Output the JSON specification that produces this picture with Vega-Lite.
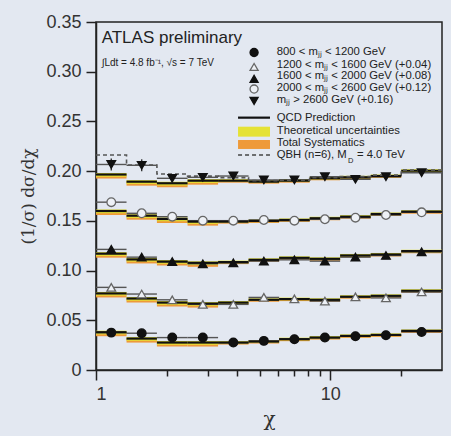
{
  "$schema": "https://vega.github.io/schema/vega-lite/v6.json",
  "width": 346,
  "height": 348,
  "autosize": "none",
  "padding": {"left": 96, "top": 22, "right": 9, "bottom": 66},
  "background": "#e3e8f1",
  "config": {"view": {"stroke": "#222", "strokeWidth": 1.5}, "font": "Liberation Sans"},
  "datasets": {
    "bins": [
      {"s":"m1","lo":1,"hi":1.35,"c":1.162,"d":0.0376,"q":0.038,"e":0.0015},
      {"s":"m1","lo":1.35,"hi":1.82,"c":1.567,"d":0.037,"q":0.0316,"e":0.0015},
      {"s":"m1","lo":1.82,"hi":2.46,"c":2.116,"d":0.0326,"q":0.0276,"e":0.0015},
      {"s":"m1","lo":2.46,"hi":3.32,"c":2.858,"d":0.0326,"q":0.0276,"e":0.0015},
      {"s":"m1","lo":3.32,"hi":4.48,"c":3.857,"d":0.0276,"q":0.0276,"e":0.0015},
      {"s":"m1","lo":4.48,"hi":6.05,"c":5.207,"d":0.0293,"q":0.0286,"e":0.0015},
      {"s":"m1","lo":6.05,"hi":8.17,"c":7.031,"d":0.031,"q":0.031,"e":0.0015},
      {"s":"m1","lo":8.17,"hi":11.02,"c":9.489,"d":0.0326,"q":0.0326,"e":0.0015},
      {"s":"m1","lo":11.02,"hi":14.88,"c":12.81,"d":0.034,"q":0.0343,"e":0.0015},
      {"s":"m1","lo":14.88,"hi":20.09,"c":17.29,"d":0.035,"q":0.0353,"e":0.0015},
      {"s":"m1","lo":20.09,"hi":30,"c":24.55,"d":0.0383,"q":0.0393,"e":0.0015},
      {"s":"m2","lo":1,"hi":1.35,"c":1.162,"d":0.0831,"q":0.077,"e":0.002},
      {"s":"m2","lo":1.35,"hi":1.82,"c":1.567,"d":0.0764,"q":0.0719,"e":0.002},
      {"s":"m2","lo":1.82,"hi":2.46,"c":2.116,"d":0.0706,"q":0.0678,"e":0.002},
      {"s":"m2","lo":2.46,"hi":3.32,"c":2.858,"d":0.066,"q":0.0668,"e":0.002},
      {"s":"m2","lo":3.32,"hi":4.48,"c":3.857,"d":0.066,"q":0.0678,"e":0.002},
      {"s":"m2","lo":4.48,"hi":6.05,"c":5.207,"d":0.073,"q":0.0706,"e":0.002},
      {"s":"m2","lo":6.05,"hi":8.17,"c":7.031,"d":0.0716,"q":0.0713,"e":0.002},
      {"s":"m2","lo":8.17,"hi":11.02,"c":9.489,"d":0.0693,"q":0.0706,"e":0.002},
      {"s":"m2","lo":11.02,"hi":14.88,"c":12.81,"d":0.0735,"q":0.0737,"e":0.002},
      {"s":"m2","lo":14.88,"hi":20.09,"c":17.29,"d":0.0725,"q":0.0746,"e":0.002},
      {"s":"m2","lo":20.09,"hi":30,"c":24.55,"d":0.0785,"q":0.0797,"e":0.002},
      {"s":"m3","lo":1,"hi":1.35,"c":1.162,"d":0.1213,"q":0.117,"e":0.002},
      {"s":"m3","lo":1.35,"hi":1.82,"c":1.567,"d":0.1135,"q":0.1112,"e":0.002},
      {"s":"m3","lo":1.82,"hi":2.46,"c":2.116,"d":0.1091,"q":0.109,"e":0.002},
      {"s":"m3","lo":2.46,"hi":3.32,"c":2.858,"d":0.1068,"q":0.1078,"e":0.002},
      {"s":"m3","lo":3.32,"hi":4.48,"c":3.857,"d":0.1078,"q":0.1085,"e":0.002},
      {"s":"m3","lo":4.48,"hi":6.05,"c":5.207,"d":0.1095,"q":0.1108,"e":0.002},
      {"s":"m3","lo":6.05,"hi":8.17,"c":7.031,"d":0.1108,"q":0.1128,"e":0.002},
      {"s":"m3","lo":8.17,"hi":11.02,"c":9.489,"d":0.1095,"q":0.1118,"e":0.002},
      {"s":"m3","lo":11.02,"hi":14.88,"c":12.81,"d":0.1135,"q":0.1152,"e":0.002},
      {"s":"m3","lo":14.88,"hi":20.09,"c":17.29,"d":0.1152,"q":0.1162,"e":0.002},
      {"s":"m3","lo":20.09,"hi":30,"c":24.55,"d":0.1189,"q":0.1195,"e":0.002},
      {"s":"m4","lo":1,"hi":1.35,"c":1.162,"d":0.1688,"q":0.1599,"e":0.002},
      {"s":"m4","lo":1.35,"hi":1.82,"c":1.567,"d":0.1576,"q":0.1552,"e":0.002},
      {"s":"m4","lo":1.82,"hi":2.46,"c":2.116,"d":0.1542,"q":0.1519,"e":0.002},
      {"s":"m4","lo":2.46,"hi":3.32,"c":2.858,"d":0.1502,"q":0.1492,"e":0.002},
      {"s":"m4","lo":3.32,"hi":4.48,"c":3.857,"d":0.1502,"q":0.1492,"e":0.002},
      {"s":"m4","lo":4.48,"hi":6.05,"c":5.207,"d":0.1509,"q":0.1499,"e":0.002},
      {"s":"m4","lo":6.05,"hi":8.17,"c":7.031,"d":0.1502,"q":0.1509,"e":0.002},
      {"s":"m4","lo":8.17,"hi":11.02,"c":9.489,"d":0.1516,"q":0.1526,"e":0.002},
      {"s":"m4","lo":11.02,"hi":14.88,"c":12.81,"d":0.1532,"q":0.1542,"e":0.002},
      {"s":"m4","lo":14.88,"hi":20.09,"c":17.29,"d":0.1559,"q":0.1569,"e":0.002},
      {"s":"m4","lo":20.09,"hi":30,"c":24.55,"d":0.1586,"q":0.1592,"e":0.002},
      {"s":"m5","lo":1,"hi":1.35,"c":1.162,"d":0.2067,"q":0.1966,"e":0.006},
      {"s":"m5","lo":1.35,"hi":1.82,"c":1.567,"d":0.2059,"q":0.1894,"e":0.006},
      {"s":"m5","lo":1.82,"hi":2.46,"c":2.116,"d":0.1928,"q":0.1878,"e":0.004},
      {"s":"m5","lo":2.46,"hi":3.32,"c":2.858,"d":0.1938,"q":0.1904,"e":0.003},
      {"s":"m5","lo":3.32,"hi":4.48,"c":3.857,"d":0.1951,"q":0.1904,"e":0.003},
      {"s":"m5","lo":4.48,"hi":6.05,"c":5.207,"d":0.1911,"q":0.1894,"e":0.003},
      {"s":"m5","lo":6.05,"hi":8.17,"c":7.031,"d":0.1911,"q":0.1904,"e":0.003},
      {"s":"m5","lo":8.17,"hi":11.02,"c":9.489,"d":0.1944,"q":0.1928,"e":0.003},
      {"s":"m5","lo":11.02,"hi":14.88,"c":12.81,"d":0.1918,"q":0.1938,"e":0.003},
      {"s":"m5","lo":14.88,"hi":20.09,"c":17.29,"d":0.1944,"q":0.1951,"e":0.003},
      {"s":"m5","lo":20.09,"hi":30,"c":24.55,"d":0.1984,"q":0.2004,"e":0.003}
    ],
    "qbh": [
      {"x":1,"v":0.2162},{"x":1.35,"v":0.2062},{"x":1.82,"v":0.1971},{"x":2.46,"v":0.195},
      {"x":3.32,"v":0.1935},{"x":4.48,"v":0.1905},{"x":6.05,"v":0.191},{"x":8.17,"v":0.1935},
      {"x":11.02,"v":0.1945},{"x":14.88,"v":0.196},{"x":20.09,"v":0.201},{"x":30,"v":0.201}
    ],
    "legsym": [
      {"s":"m1","x":4.73,"y":0.3193},
      {"s":"m2","x":4.73,"y":0.3048},
      {"s":"m3","x":4.73,"y":0.2928},
      {"s":"m4","x":4.73,"y":0.2826},
      {"s":"m5","x":4.73,"y":0.2706}
    ],
    "legtext": [
      {"x":5.91,"y":0.3195,"t":"800 < mⱼⱼ < 1200 GeV"},
      {"x":5.91,"y":0.3071,"t":"1200 < mⱼⱼ < 1600 GeV (+0.04)"},
      {"x":5.91,"y":0.2957,"t":"1600 < mⱼⱼ < 2000 GeV (+0.08)"},
      {"x":5.91,"y":0.2836,"t":"2000 < mⱼⱼ < 2600 GeV (+0.12)"},
      {"x":5.91,"y":0.2716,"t":"mⱼⱼ > 2600 GeV (+0.16)"},
      {"x":5.91,"y":0.2538,"t":"QCD Prediction"},
      {"x":5.91,"y":0.2404,"t":"Theoretical uncertainties"},
      {"x":5.91,"y":0.2283,"t":"Total Systematics"},
      {"x":5.91,"y":0.2162,"t":"QBH (n=6), M"},
      {"x":13.0,"y":0.2162,"t":"= 4.0 TeV"}
    ],
    "legsub": [{"x":11.9,"y":0.2105,"t":"D"}],
    "legline": [{"x1":4.04,"x2":5.53,"y":0.2538}],
    "legyel": [{"x1":4.04,"x2":5.53,"y1":0.2447,"y2":0.2347}],
    "legorg": [{"x1":4.04,"x2":5.53,"y1":0.2313,"y2":0.2223}],
    "legqbh": [{"x1":4.04,"x2":5.53,"y":0.2162}],
    "title": [{"x":1.057,"y":0.3339,"t":"ATLAS preliminary"}],
    "sub": [{"x":1.057,"y":0.3088,"t":"∫Ldt = 4.8 fb⁻¹, √s = 7 TeV"}]
  },
  "layer": [
    {
      "data": {"name": "bins"},
      "transform": [{"filter": "datum.c < 3"}],
      "mark": {"type": "rect", "color": "#ee9a3a", "yOffset": 0, "y2Offset": 4},
      "encoding": {
        "x": {"field": "lo", "type": "quantitative", "scale": {"type": "log", "domain": [1, 30], "nice": false},
          "axis": {"values": [1,2,3,4,5,6,7,8,9,10,20], "labelExpr": "(datum.value == 1 || datum.value == 10) ? '' + datum.value : ''",
            "tickSize": {"condition": {"test": "datum.value == 1 || datum.value == 10", "value": 10}, "value": 6},
            "grid": false, "labelFontSize": 18, "labelColor": "#333", "labelPadding": 5, "labelFont": "Liberation Sans",
            "domainColor": "#222", "domainWidth": 1.5, "tickColor": "#222", "tickWidth": 1.5, "labelOverlap": false,
            "title": "χ", "titleFont": "DejaVu Serif", "titleFontSize": 20, "titleFontWeight": "normal", "titleColor": "#333", "titlePadding": 6}},
        "x2": {"field": "hi"},
        "y": {"field": "q", "type": "quantitative", "scale": {"domain": [0, 0.35], "nice": false},
          "axis": {"values": [0,0.05,0.1,0.15,0.2,0.25,0.3,0.35], "labelExpr": "datum.value == 0 ? '0' : format(datum.value, '.2f')",
            "tickSize": 10, "grid": false, "labelFontSize": 18, "labelColor": "#333", "labelPadding": 5, "labelFont": "Liberation Sans",
            "domainColor": "#222", "domainWidth": 1.5, "tickColor": "#222", "tickWidth": 1.5,
            "title": "(1/σ) dσ/dχ", "titleFont": "DejaVu Serif", "titleFontSize": 17, "titleFontWeight": "normal", "titleColor": "#333", "titlePadding": 8}},
        "y2": {"field": "q"}
      }
    },
    {
      "data": {"name": "bins"},
      "transform": [{"filter": "datum.c >= 3"}],
      "mark": {"type": "rect", "color": "#ee9a3a", "yOffset": 0, "y2Offset": 2},
      "encoding": {
        "x": {"field": "lo", "type": "quantitative"},
        "x2": {"field": "hi"},
        "y": {"field": "q", "type": "quantitative"},
        "y2": {"field": "q"}
      }
    },
    {
      "data": {"name": "bins"},
      "transform": [{"filter": "datum.c < 3"}],
      "mark": {"type": "rect", "color": "#e5e235", "yOffset": -1.5, "y2Offset": 2.2},
      "encoding": {
        "x": {"field": "lo", "type": "quantitative"},
        "x2": {"field": "hi"},
        "y": {"field": "q", "type": "quantitative"},
        "y2": {"field": "q"}
      }
    },
    {
      "data": {"name": "bins"},
      "transform": [{"filter": "datum.c >= 3"}],
      "mark": {"type": "rect", "color": "#e5e235", "yOffset": -1.5, "y2Offset": 1.2},
      "encoding": {
        "x": {"field": "lo", "type": "quantitative"},
        "x2": {"field": "hi"},
        "y": {"field": "q", "type": "quantitative"},
        "y2": {"field": "q"}
      }
    },
    {
      "data": {"name": "bins"},
      "mark": {"type": "rule", "color": "#555", "strokeWidth": 1.4},
      "encoding": {
        "x": {"field": "lo", "type": "quantitative"},
        "x2": {"field": "hi"},
        "y": {"field": "d", "type": "quantitative"}
      }
    },
    {
      "data": {"name": "bins"},
      "mark": {"type": "rule", "color": "#111", "strokeWidth": 2.2},
      "encoding": {
        "x": {"field": "lo", "type": "quantitative"},
        "x2": {"field": "hi"},
        "y": {"field": "q", "type": "quantitative"}
      }
    },
    {
      "data": {"name": "qbh"},
      "mark": {"type": "line", "interpolate": "step-after", "color": "#555", "strokeWidth": 1.6, "strokeDash": [4, 3]},
      "encoding": {
        "x": {"field": "x", "type": "quantitative"},
        "y": {"field": "v", "type": "quantitative"}
      }
    },
    {
      "data": {"name": "bins"},
      "mark": {"type": "errorbar", "color": "#333", "thickness": 1.4},
      "encoding": {
        "x": {"field": "c", "type": "quantitative", "title": "χ"},
        "y": {"field": "d", "type": "quantitative", "title": "(1/σ) dσ/dχ"},
        "yError": {"field": "e"}
      }
    },
    {
      "data": {"name": "bins"},
      "mark": {"type": "point", "filled": true, "opacity": 1, "size": 75, "strokeWidth": 1.3},
      "encoding": {
        "x": {"field": "c", "type": "quantitative"},
        "y": {"field": "d", "type": "quantitative"},
        "shape": {"field": "s", "type": "nominal", "scale": {"domain": ["m1","m2","m3","m4","m5"], "range": ["circle","triangle-up","triangle-up","circle","triangle-down"]}, "legend": null},
        "fill": {"field": "s", "type": "nominal", "scale": {"domain": ["m1","m2","m3","m4","m5"], "range": ["#111","#eef1f6","#111","#eef1f6","#111"]}, "legend": null},
        "stroke": {"field": "s", "type": "nominal", "scale": {"domain": ["m1","m2","m3","m4","m5"], "range": ["#111","#666","#111","#666","#111"]}, "legend": null}
      }
    },
    {
      "data": {"name": "legsym"},
      "mark": {"type": "point", "filled": true, "opacity": 1, "size": 65, "strokeWidth": 1.3},
      "encoding": {
        "x": {"field": "x", "type": "quantitative"},
        "y": {"field": "y", "type": "quantitative"},
        "shape": {"field": "s", "type": "nominal", "legend": null},
        "fill": {"field": "s", "type": "nominal", "legend": null},
        "stroke": {"field": "s", "type": "nominal", "legend": null}
      }
    },
    {
      "data": {"name": "legyel"},
      "mark": {"type": "rect", "color": "#e5e235"},
      "encoding": {
        "x": {"field": "x1", "type": "quantitative"},
        "x2": {"field": "x2"},
        "y": {"field": "y1", "type": "quantitative"},
        "y2": {"field": "y2"}
      }
    },
    {
      "data": {"name": "legorg"},
      "mark": {"type": "rect", "color": "#ee9a3a"},
      "encoding": {
        "x": {"field": "x1", "type": "quantitative"},
        "x2": {"field": "x2"},
        "y": {"field": "y1", "type": "quantitative"},
        "y2": {"field": "y2"}
      }
    },
    {
      "data": {"name": "legline"},
      "mark": {"type": "rule", "color": "#111", "strokeWidth": 2.2},
      "encoding": {
        "x": {"field": "x1", "type": "quantitative"},
        "x2": {"field": "x2"},
        "y": {"field": "y", "type": "quantitative"}
      }
    },
    {
      "data": {"name": "legqbh"},
      "mark": {"type": "rule", "color": "#444", "strokeWidth": 1.6, "strokeDash": [4, 3]},
      "encoding": {
        "x": {"field": "x1", "type": "quantitative"},
        "x2": {"field": "x2"},
        "y": {"field": "y", "type": "quantitative"}
      }
    },
    {
      "data": {"name": "legtext"},
      "mark": {"type": "text", "align": "left", "baseline": "middle", "fontSize": 11.3, "color": "#222", "font": "Liberation Sans"},
      "encoding": {
        "x": {"field": "x", "type": "quantitative"},
        "y": {"field": "y", "type": "quantitative"},
        "text": {"field": "t"}
      }
    },
    {
      "data": {"name": "legsub"},
      "mark": {"type": "text", "align": "left", "baseline": "middle", "fontSize": 7.5, "color": "#222", "font": "Liberation Sans"},
      "encoding": {
        "x": {"field": "x", "type": "quantitative"},
        "y": {"field": "y", "type": "quantitative"},
        "text": {"field": "t"}
      }
    },
    {
      "data": {"name": "title"},
      "mark": {"type": "text", "align": "left", "baseline": "middle", "fontSize": 17, "color": "#222", "font": "Liberation Sans"},
      "encoding": {
        "x": {"field": "x", "type": "quantitative"},
        "y": {"field": "y", "type": "quantitative"},
        "text": {"field": "t"}
      }
    },
    {
      "data": {"name": "sub"},
      "mark": {"type": "text", "align": "left", "baseline": "middle", "fontSize": 10, "color": "#222", "font": "Liberation Sans"},
      "encoding": {
        "x": {"field": "x", "type": "quantitative"},
        "y": {"field": "y", "type": "quantitative"},
        "text": {"field": "t"}
      }
    }
  ]
}
